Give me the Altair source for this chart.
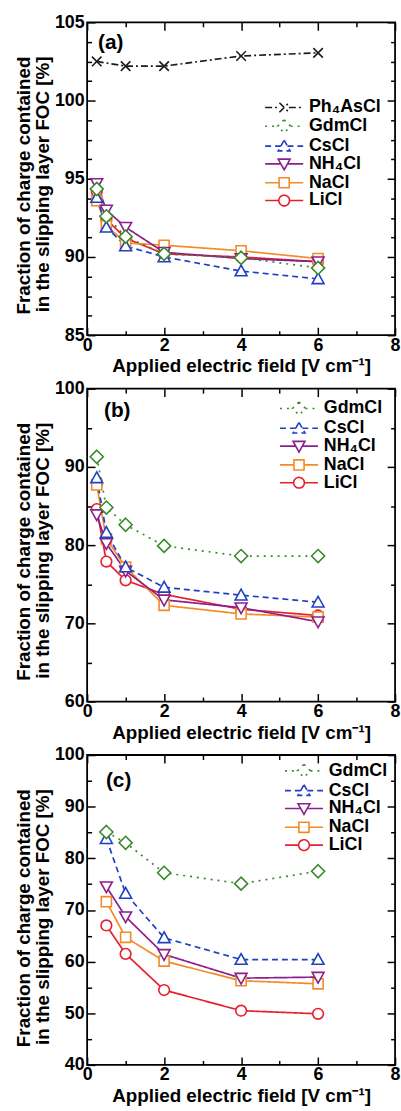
import altair as alt
import pandas as pd

FONT = "Liberation Sans"

# ---------------- data ----------------
PH = "Ph\u2084AsCl"
NH = "NH\u2084Cl"
names_a = [PH, "GdmCl", "CsCl", NH, "NaCl", "LiCl"]
names_bc = ["GdmCl", "CsCl", NH, "NaCl", "LiCl"]

x_a = [0.25, 0.5, 1, 2, 4, 6]
x_a_ph = [0.25, 1, 2, 4, 6]
x_b = [0.25, 0.5, 1, 2, 4, 6]
x_c = [0.5, 1, 2, 4, 6]

# panel (a)
a_ph4ascl = [102.5, 102.2, 102.2, 102.85, 103.05]
a_gdmcl = [94.35, 92.6, 91.3, 90.2, 89.95, 89.3]
a_cscl = [93.8, 91.9, 90.7, 90.0, 89.1, 88.6]
a_nh4cl = [94.7, 93.0, 91.9, 90.3, 89.9, 89.7]
a_nacl = [93.6, 92.0, 90.9, 90.75, 90.4, 89.9]
a_licl = [94.2, 92.4, 91.2, 90.2, 90.0, 89.7]

# panel (b)
b_gdmcl = [91.3, 84.8, 82.6, 79.9, 78.6, 78.6]
b_cscl = [88.6, 81.6, 77.2, 74.6, 73.6, 72.7]
b_nh4cl = [83.9, 80.2, 76.7, 73.0, 72.0, 70.2]
b_nacl = [87.7, 80.8, 77.2, 72.3, 71.2, 70.8]
b_licl = [84.6, 77.9, 75.5, 73.7, 71.8, 71.0]

# panel (c)
c_gdmcl = [85.1, 83.0, 77.2, 75.1, 77.5]
c_cscl = [83.8, 73.2, 64.6, 60.4, 60.4]
c_nh4cl = [74.5, 68.7, 61.4, 56.8, 57.0]
c_nacl = [71.6, 64.7, 60.1, 56.3, 55.7]
c_licl = [67.0, 61.5, 54.5, 50.5, 49.9]

x_ticks = [0, 2, 4, 6, 8]
x_minor = [1, 3, 5, 7]
ya_ticks = [85, 90, 95, 100, 105]
ya_minor = [86.25, 87.5, 88.75, 91.25, 92.5, 93.75, 96.25, 97.5, 98.75, 101.25, 102.5, 103.75]
yb_ticks = [60, 70, 80, 90, 100]
yb_minor = [65, 75, 85, 95]
yc_ticks = [40, 50, 60, 70, 80, 90, 100]
yc_minor = [45, 55, 65, 75, 85, 95]

# ---------------- styles ----------------
COLORS = {PH: "#1c1c1c", "GdmCl": "#3a8a2c", "CsCl": "#2040c4", NH: "#8c1f8c",
          "NaCl": "#f28a26", "LiCl": "#e81e2c"}
DASHES = {PH: [7, 3, 2, 3], "GdmCl": [2, 5], "CsCl": [6, 4], NH: [1, 0],
          "NaCl": [1, 0], "LiCl": [1, 0]}
MARKER_OF = {PH: "x", "GdmCl": "diamond", "CsCl": "up", NH: "down", "NaCl": "square", "LiCl": "circle"}
MARKERS = {
    "x": ("M-0.8,-0.8L0.8,0.8M-0.8,0.8L0.8,-0.8", 0.8),
    "diamond": ("M0,-1.1L1.1,0L0,1.1L-1.1,0Z", 1.1),
    "up": ("M0,-1L1,0.8L-1,0.8Z", 0.56),
    "down": ("M0,1L1,-0.8L-1,-0.8Z", 0.56),
    "square": ("M-0.85,-0.85L0.85,-0.85L0.85,0.85L-0.85,0.85Z", 0.85),
    "circle": ("M0.9,0A0.9,0.9,0,1,1,-0.9,0A0.9,0.9,0,1,1,0.9,0Z", 0.9),
}
U = 6.0          # px per symbol-path unit (sqrt(size)/2)
SIZE = (2 * U) ** 2
L_HALF = 3.2


def legend_path(name):
    path, edge = MARKERS[MARKER_OF[name]]
    dash = DASHES[name]
    segs = []
    for a, b in [(-L_HALF, -edge), (edge, L_HALF)]:
        if dash == [1, 0]:
            segs.append(f"M{a:.2f},0L{b:.2f},0")
            continue
        pos, i = a, 0
        while pos < b - 1e-6:
            ln = dash[i % len(dash)] / U
            if i % 2 == 0:
                segs.append(f"M{pos:.2f},0L{min(pos + ln, b):.2f},0")
            pos += ln
            i += 1
    return "".join(segs) + path


def frame(series):
    rows = []
    for name, xs, ys in series:
        for xv, yv in zip(xs, ys):
            rows.append({"x": xv, "y": yv, "s": name})
    return pd.DataFrame(rows)


df_a = frame([("LiCl", x_a, a_licl), ("NaCl", x_a, a_nacl), (NH, x_a, a_nh4cl),
              ("CsCl", x_a, a_cscl), ("GdmCl", x_a, a_gdmcl), (PH, x_a_ph, a_ph4ascl)])
df_b = frame([("LiCl", x_b, b_licl), ("NaCl", x_b, b_nacl), (NH, x_b, b_nh4cl),
              ("CsCl", x_b, b_cscl), ("GdmCl", x_b, b_gdmcl)])
df_c = frame([("LiCl", x_c, c_licl), ("NaCl", x_c, c_nacl), (NH, x_c, c_nh4cl),
              ("CsCl", x_c, c_cscl), ("GdmCl", x_c, c_gdmcl)])

MAJ, MIN = 8, 4.5
TXT = dict(labelFont=FONT, labelFontSize=18, labelFontWeight="bold", labelColor="black",
           titleFont=FONT, titleFontWeight="bold", titleColor="black")


def tick_axis(orient, values, size):
    return alt.Axis(orient=orient, values=values, tickSize=size, offset=-size, domain=False,
                    grid=False, labels=False, title=None, tickColor="black", tickWidth=1.5)


def main_x_axis():
    return alt.Axis(orient="bottom", values=x_ticks, tickSize=MAJ, offset=-MAJ, domain=False,
                    grid=False, tickColor="black", tickWidth=1.5, labelPadding=1,
                    labelFlush=False, labelOverlap=False, format="d",
                    title="Applied electric field [V cm\u207b\u00b9]", titleFontSize=19,
                    titlePadding=3, **TXT)


def main_y_axis(values):
    return alt.Axis(orient="left", values=values, tickSize=MAJ, offset=-MAJ, domain=False,
                    grid=False, tickColor="black", tickWidth=1.5, labelPadding=3,
                    labelFlush=False, labelOverlap=False, format="d",
                    title=["Fraction of charge contained", "in the slipping layer FOC [%]"],
                    titleFontSize=19, titleLineHeight=19, titlePadding=2,
                    titleAlign="right", titleY=34, **TXT)


def panel(df, names, ydom, ymaj, ymin, label, lab_xy, leg_xy, height):
    xs = alt.Scale(domain=[0, 8], nice=False, zero=False)
    ys = alt.Scale(domain=ydom, nice=False, zero=False)
    cscale = alt.Scale(domain=names, range=[COLORS[n] for n in names])
    dscale = alt.Scale(domain=names, range=[DASHES[n] for n in names])
    base = alt.Chart(df)

    # legend-only layer (no marks drawn: data filtered out); first so its legend settings win
    leg = alt.Legend(title=None, orient="none", legendX=leg_xy[0], legendY=leg_xy[1],
                     symbolSize=SIZE, symbolStrokeWidth=1.6, symbolOpacity=1,
                     labelFont=FONT, labelFontSize=18,
                     labelFontWeight="bold", labelColor="black", labelOffset=16, rowPadding=0,
                     padding=0, labelLimit=200)
    legend_layer = base.transform_filter("false").mark_point(
        filled=False, size=SIZE, strokeWidth=1.6, opacity=1
    ).encode(
        x=alt.X("x:Q", scale=xs, axis=tick_axis("bottom", x_minor, MIN)),
        y=alt.Y("y:Q", scale=ys, axis=tick_axis("left", ymin, MIN)),
        color=alt.Color("s:N", scale=cscale, legend=leg),
        shape=alt.Shape("s:N", scale=alt.Scale(domain=names, range=[legend_path(n) for n in names]),
                        legend=leg),
    )

    lines = base.mark_line(strokeWidth=1.7).encode(
        x=alt.X("x:Q", scale=xs, axis=main_x_axis()),
        y=alt.Y("y:Q", scale=ys, axis=main_y_axis(ymaj)),
        color=alt.Color("s:N", scale=cscale, legend=None),
        strokeDash=alt.StrokeDash("s:N", scale=dscale, legend=None),
    )

    order = [n for n in ["LiCl", "NaCl", NH, "CsCl", "GdmCl", PH] if n in names]
    pts = []
    for i, n in enumerate(order):
        if i == 0:
            xa, ya = tick_axis("top", x_ticks, MAJ), tick_axis("right", ymaj, MAJ)
        elif i == 1:
            xa, ya = tick_axis("top", x_minor, MIN), tick_axis("right", ymin, MIN)
        else:
            xa, ya = None, None
        pts.append(
            base.transform_filter(alt.datum.s == n).mark_point(
                shape=MARKERS[MARKER_OF[n]][0], filled=False, fill="white", size=SIZE,
                strokeWidth=1.6, opacity=1
            ).encode(
                x=alt.X("x:Q", scale=xs, axis=xa),
                y=alt.Y("y:Q", scale=ys, axis=ya),
                color=alt.Color("s:N", scale=cscale, legend=None),
            )
        )

    text = alt.Chart(pd.DataFrame({"t": [label]})).mark_text(
        font=FONT, fontSize=21, fontWeight="bold", color="black", align="left", baseline="middle"
    ).encode(text="t:N", x=alt.value(lab_xy[0]), y=alt.value(lab_xy[1]))

    return alt.layer(legend_layer, lines, *pts, text).resolve_axis(
        x="independent", y="independent").properties(width=311, height=height)


pa = panel(df_a, names_a, [85, 105], ya_ticks, ya_minor, "(a)", (11, 21), (190, 77), 316)
pb = panel(df_b, names_bc, [60, 100], yb_ticks, yb_minor, "(b)", (17, 23), (205, 11), 316)
pc = panel(df_c, names_bc, [40, 100], yc_ticks, yc_minor, "(c)", (19, 26), (210, 7), 313)

chart = alt.vconcat(pa, pb, pc, spacing=2).resolve_scale(
    color="independent", shape="independent", strokeDash="independent"
).configure_view(stroke="black", strokeWidth=1.8).properties(
    padding={"left": 14, "top": 7, "right": 0, "bottom": 0}, background="white"
)

chart.save("out.html", embed_options={"renderer": "svg", "actions": False})
